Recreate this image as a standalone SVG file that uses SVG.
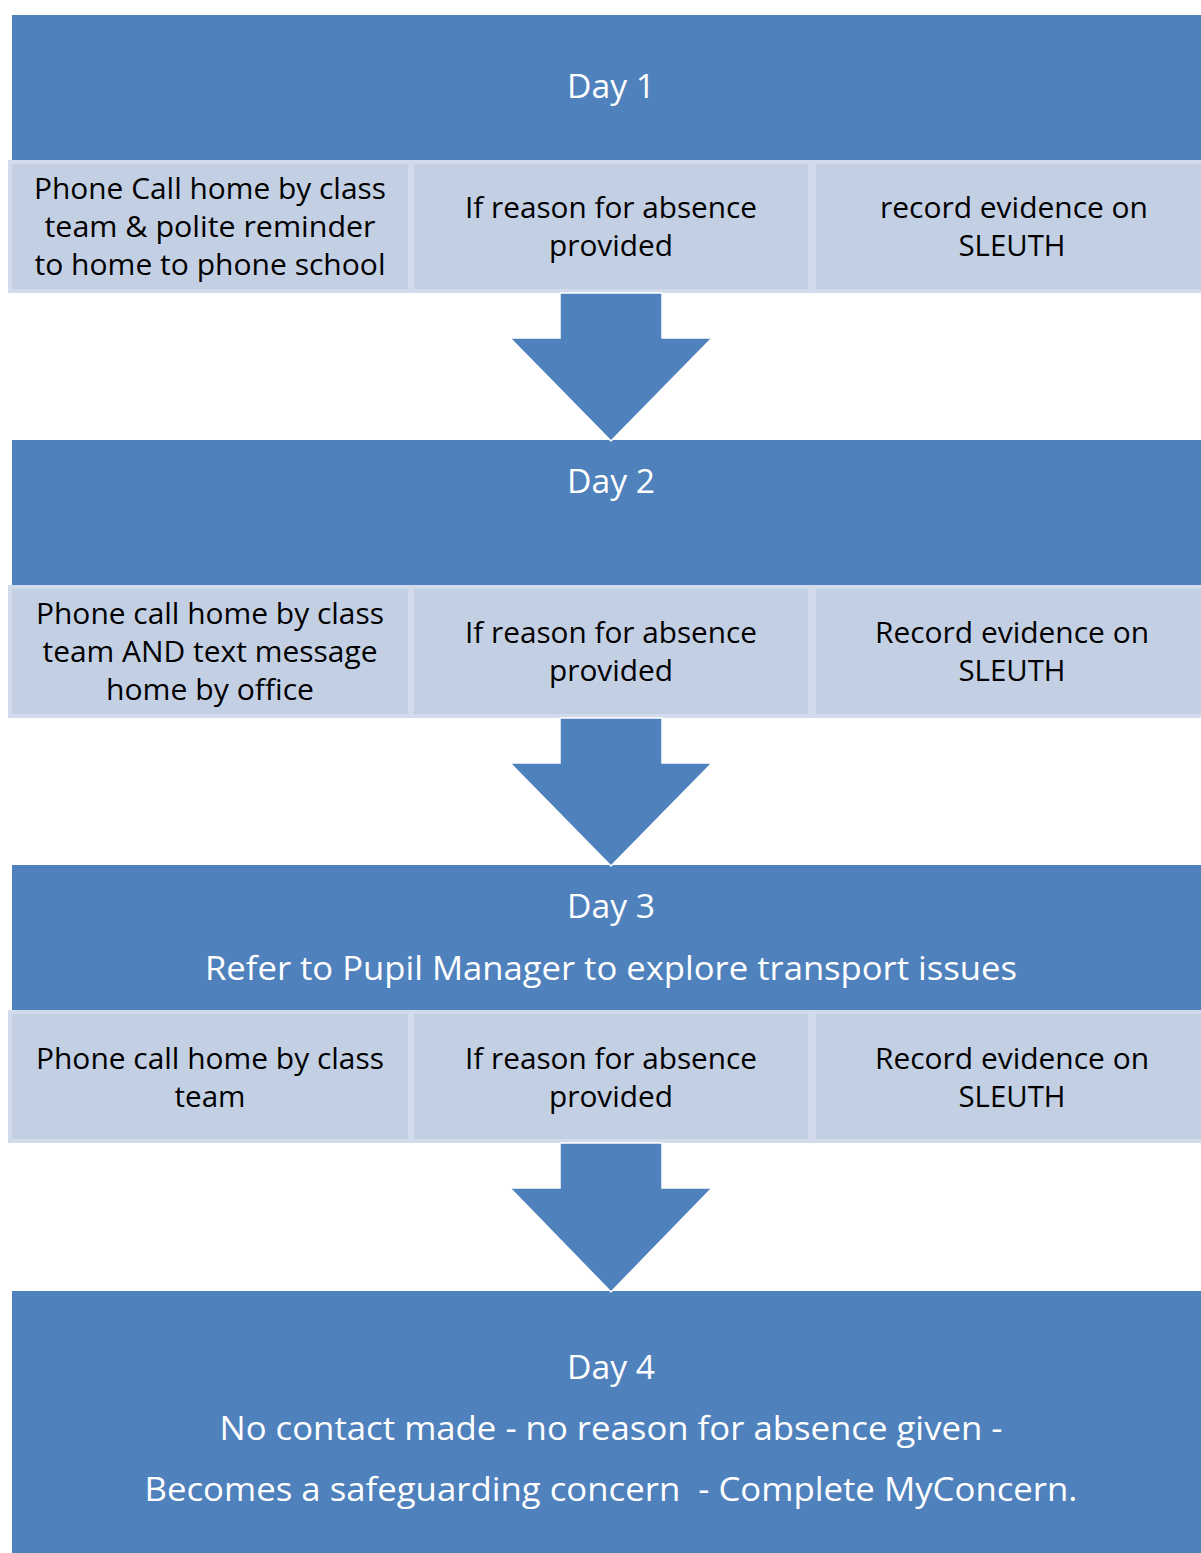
<svg xmlns="http://www.w3.org/2000/svg" width="1201" height="1553" viewBox="0 0 1201 1553">
<style>
.day{fill:#4F81BD}
.cell{fill:#C3CFE3;stroke:#D2DBEB;stroke-width:4}
.arrow{fill:#4F81BD;stroke:#FFFFFF;stroke-width:1.5}
.hd{font-family:"Open Sans","Liberation Sans",sans-serif;font-size:32px;fill:#FFFFFF;text-anchor:middle}
.ct{font-family:"Open Sans","Liberation Sans",sans-serif;font-size:29px;fill:#000000;text-anchor:middle}
</style>
<rect width="1201" height="1553" fill="#FFFFFF"/>

<g id="day1">
<rect class="day" x="12" y="15" width="1200" height="146"/>
<text class="hd" x="611" y="98" textLength="88" lengthAdjust="spacingAndGlyphs">Day 1</text>
</g>
<g id="day1-action">
<rect class="cell" x="10" y="162" width="400" height="129"/>
<text class="ct" x="210" y="199" textLength="352" lengthAdjust="spacingAndGlyphs">Phone Call home by class</text>
<text class="ct" x="210" y="237" textLength="331" lengthAdjust="spacingAndGlyphs">team &amp; polite reminder</text>
<text class="ct" x="210" y="275" textLength="351" lengthAdjust="spacingAndGlyphs">to home to phone school</text>
</g>
<g id="day1-reason">
<rect class="cell" x="412" y="162" width="398" height="129"/>
<text class="ct" x="611" y="218" textLength="292" lengthAdjust="spacingAndGlyphs">If reason for absence</text>
<text class="ct" x="611" y="256" textLength="124" lengthAdjust="spacingAndGlyphs">provided</text>
</g>
<g id="day1-record">
<rect class="cell" x="814" y="162" width="400" height="129"/>
<text class="ct" x="1014" y="218" textLength="268" lengthAdjust="spacingAndGlyphs">record evidence on</text>
<text class="ct" x="1012" y="256" textLength="107" lengthAdjust="spacingAndGlyphs">SLEUTH</text>
</g>

<g id="day2">
<rect class="day" x="12" y="440" width="1200" height="146"/>
<text class="hd" x="611" y="493" textLength="88" lengthAdjust="spacingAndGlyphs">Day 2</text>
</g>
<g id="day2-action">
<rect class="cell" x="10" y="587" width="400" height="129"/>
<text class="ct" x="210" y="624" textLength="348" lengthAdjust="spacingAndGlyphs">Phone call home by class</text>
<text class="ct" x="210" y="662" textLength="335" lengthAdjust="spacingAndGlyphs">team AND text message</text>
<text class="ct" x="210" y="700" textLength="208" lengthAdjust="spacingAndGlyphs">home by office</text>
</g>
<g id="day2-reason">
<rect class="cell" x="412" y="587" width="398" height="129"/>
<text class="ct" x="611" y="643" textLength="292" lengthAdjust="spacingAndGlyphs">If reason for absence</text>
<text class="ct" x="611" y="681" textLength="124" lengthAdjust="spacingAndGlyphs">provided</text>
</g>
<g id="day2-record">
<rect class="cell" x="814" y="587" width="400" height="129"/>
<text class="ct" x="1012" y="643" textLength="274" lengthAdjust="spacingAndGlyphs">Record evidence on</text>
<text class="ct" x="1012" y="681" textLength="107" lengthAdjust="spacingAndGlyphs">SLEUTH</text>
</g>

<g id="day3">
<rect class="day" x="12" y="865" width="1200" height="146"/>
<text class="hd" x="611" y="918" textLength="88" lengthAdjust="spacingAndGlyphs">Day 3</text>
<text class="hd" x="611" y="980" textLength="812" lengthAdjust="spacingAndGlyphs">Refer to Pupil Manager to explore transport issues</text>
</g>
<g id="day3-action">
<rect class="cell" x="10" y="1012" width="400" height="129"/>
<text class="ct" x="210" y="1069" textLength="348" lengthAdjust="spacingAndGlyphs">Phone call home by class</text>
<text class="ct" x="210" y="1107" textLength="71" lengthAdjust="spacingAndGlyphs">team</text>
</g>
<g id="day3-reason">
<rect class="cell" x="412" y="1012" width="398" height="129"/>
<text class="ct" x="611" y="1069" textLength="292" lengthAdjust="spacingAndGlyphs">If reason for absence</text>
<text class="ct" x="611" y="1107" textLength="124" lengthAdjust="spacingAndGlyphs">provided</text>
</g>
<g id="day3-record">
<rect class="cell" x="814" y="1012" width="400" height="129"/>
<text class="ct" x="1012" y="1069" textLength="274" lengthAdjust="spacingAndGlyphs">Record evidence on</text>
<text class="ct" x="1012" y="1107" textLength="107" lengthAdjust="spacingAndGlyphs">SLEUTH</text>
</g>

<g id="day4">
<rect class="day" x="12" y="1291" width="1200" height="270"/>
<text class="hd" x="611" y="1379" textLength="88" lengthAdjust="spacingAndGlyphs">Day 4</text>
<text class="hd" x="611" y="1440" textLength="783" lengthAdjust="spacingAndGlyphs">No contact made - no reason for absence given -</text>
<text class="hd" x="611" y="1501" textLength="933" lengthAdjust="spacingAndGlyphs" xml:space="preserve">Becomes a safeguarding concern  - Complete MyConcern.</text>
</g>

<g id="connectors">
<path class="arrow" d="M560,293 H662 V338 H712 L611,441 L510,338 H560 Z"/>
<path class="arrow" d="M560,718 H662 V763 H712 L611,866 L510,763 H560 Z"/>
<path class="arrow" d="M560,1143 H662 V1188 H712 L611,1292 L510,1188 H560 Z"/>
</g>
</svg>
